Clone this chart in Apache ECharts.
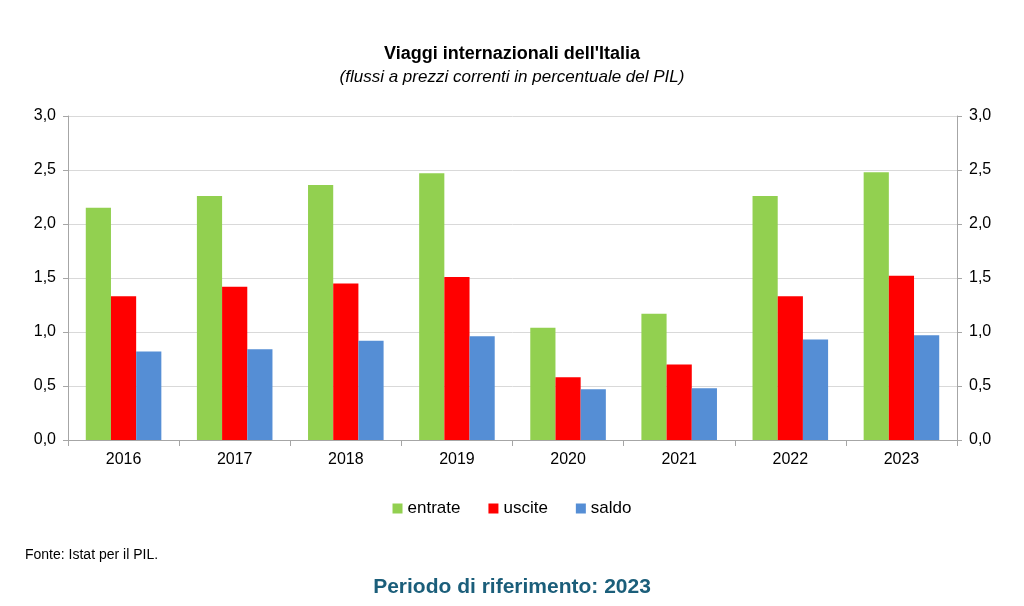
<!DOCTYPE html>
<html>
<head>
<meta charset="utf-8">
<script src="https://cdn.jsdelivr.net/npm/echarts@6/dist/echarts.min.js"></script>
<style>html,body{margin:0;padding:0;background:#fff}#chart{width:1024px;height:606px}</style>
</head>
<body>
<div id="chart"></div>
<script>
var years = ['2016', '2017', '2018', '2019', '2020', '2021', '2022', '2023'];
var entrate = [2.15, 2.26, 2.36, 2.47, 1.04, 1.17, 2.26, 2.48];
var uscite = [1.33, 1.42, 1.45, 1.51, 0.58, 0.70, 1.33, 1.52];
var saldo = [0.82, 0.84, 0.92, 0.96, 0.47, 0.48, 0.93, 0.97];

var chart = echarts.init(document.getElementById('chart'));
var fmt = function (v) { return v.toFixed(1).replace('.', ','); };
var axisY = function (pos) {
  return {
    type: 'value', position: pos, min: 0, max: 3, interval: 0.5,
    axisLine: { show: true, lineStyle: { color: '#a6a6a6' } },
    axisTick: { show: true, lineStyle: { color: '#a6a6a6' } },
    splitLine: { show: pos === 'left', lineStyle: { color: '#d9d9d9' } },
    axisLabel: { formatter: fmt, color: '#000', fontSize: 16, fontFamily: 'Liberation Sans, Arial', margin: 12 }
  };
};
chart.setOption({
  animation: false,
  title: [
    { text: "Viaggi internazionali dell'Italia", left: 'center', top: 40,
      textStyle: { fontSize: 18, fontWeight: 'bold', color: '#000', fontFamily: 'Liberation Sans, Arial' } },
    { text: '(flussi a prezzi correnti in percentuale del PIL)', left: 'center', top: 64,
      textStyle: { fontSize: 17, fontStyle: 'italic', fontWeight: 'normal', color: '#000', fontFamily: 'Liberation Sans, Arial' } },
    { text: 'Fonte: Istat per il PIL.', left: 20, top: 543,
      textStyle: { fontSize: 14, fontWeight: 'normal', color: '#000', fontFamily: 'Liberation Sans, Arial' } },
    { text: 'Periodo di riferimento: 2023', left: 'center', top: 572,
      textStyle: { fontSize: 21, fontWeight: 'bold', color: '#1b5e7a', fontFamily: 'Liberation Sans, Arial' } }
  ],
  legend: {
    bottom: 84, left: 'center', itemWidth: 10, itemHeight: 10, itemGap: 28, icon: 'rect',
    textStyle: { fontSize: 17, color: '#000', fontFamily: 'Liberation Sans, Arial' },
    data: ['entrate', 'uscite', 'saldo']
  },
  grid: { left: 68, right: 67, top: 116, bottom: 166 },
  xAxis: {
    type: 'category', data: years,
    axisLine: { lineStyle: { color: '#a6a6a6' } },
    axisTick: { show: true, alignWithLabel: false, length: 6, lineStyle: { color: '#a6a6a6' } },
    axisLabel: { color: '#000', fontSize: 16, fontFamily: 'Liberation Sans, Arial', margin: 12 }
  },
  yAxis: [axisY('left'), axisY('right')],
  series: [
    { name: 'entrate', type: 'bar', data: entrate, barGap: '0%', barCategoryGap: '32%', itemStyle: { color: '#92d050' } },
    { name: 'uscite', type: 'bar', data: uscite, itemStyle: { color: '#ff0000' } },
    { name: 'saldo', type: 'bar', data: saldo, itemStyle: { color: '#558ed5' } }
  ]
});
</script>
</body>
</html>
